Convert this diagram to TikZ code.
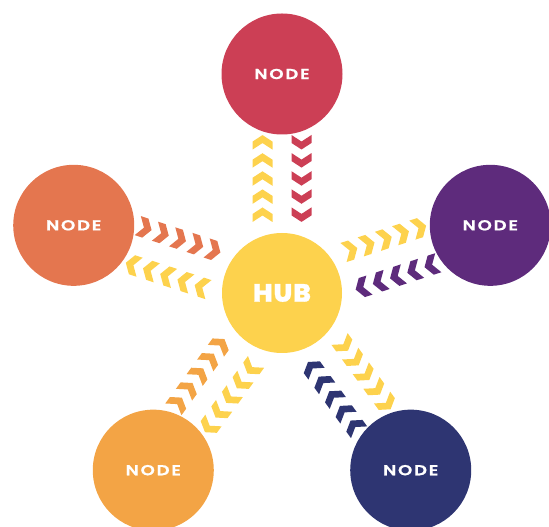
\documentclass[tikz,border=0pt]{standalone}
\usepackage{fontspec}
\setmainfont{Poppins}
\newfontfamily\nodefont[LetterSpace=12, FakeStretch=1.25, FakeBold=0.8]{Poppins SemiBold}
\newfontfamily\hubfont[LetterSpace=4, FakeStretch=1.05, FakeBold=1.2]{Poppins ExtraBold}
\usetikzlibrary{calc}
\definecolor{hubyellow}{HTML}{FDD24D}
\definecolor{nodered}{HTML}{CC3F55}
\definecolor{nodeorange}{HTML}{E4764F}
\definecolor{nodeamber}{HTML}{F3A445}
\definecolor{nodenavy}{HTML}{2E3572}
\definecolor{nodepurple}{HTML}{5E2B7C}

\begin{document}
\begin{tikzpicture}[
  x=1pt, y=1pt,
  hubnode/.style={circle, fill=hubyellow, minimum size=120pt, inner sep=0pt, text=white, font=\hubfont\fontsize{25}{25}\selectfont},
  spoke/.style={circle, minimum size=121pt, inner sep=0pt, text=white, font=\nodefont\fontsize{14.5}{15}\selectfont},
  outchev/.style={fill=hubyellow},
  inchev/.style={fill=#1}
]
\useasboundingbox (0,0) rectangle (549,527);
\node[hubnode] (hub) at (282,234) {HUB};
% the five outer nodes
\foreach \ang/\col [count=\i] in {90/nodered, 162/nodeorange, 234/nodeamber, 306/nodenavy, 18/nodepurple} {
  \node[spoke, fill=\col] (n\i) at ($(hub)+(\ang:219)$) {NODE};
}
% chevrons: yellow ones go out, coloured ones come back
\foreach \ang/\col in {90/nodered, 162/nodeorange, 234/nodeamber, 306/nodenavy, 18/nodepurple} {
  \begin{scope}[shift={(hub.center)}, rotate=\ang]
    \foreach \k in {0,...,4} {
      \pgfmathsetmacro\ua{71+\k*18.1}
      \pgfmathsetmacro\ub{158-\k*18.1}
      \fill[outchev] (\ua,29.5) -- (\ua+8,29.5) -- (\ua+14.5,19.5) -- (\ua+8,9.5) -- (\ua,9.5) -- (\ua+6.5,19.5) -- cycle;
      \fill[inchev=\col] (\ub,-9.5) -- (\ub-8,-9.5) -- (\ub-14.5,-19.5) -- (\ub-8,-29.5) -- (\ub,-29.5) -- (\ub-6.5,-19.5) -- cycle;
    }
  \end{scope}
}
\end{tikzpicture}
\end{document}
